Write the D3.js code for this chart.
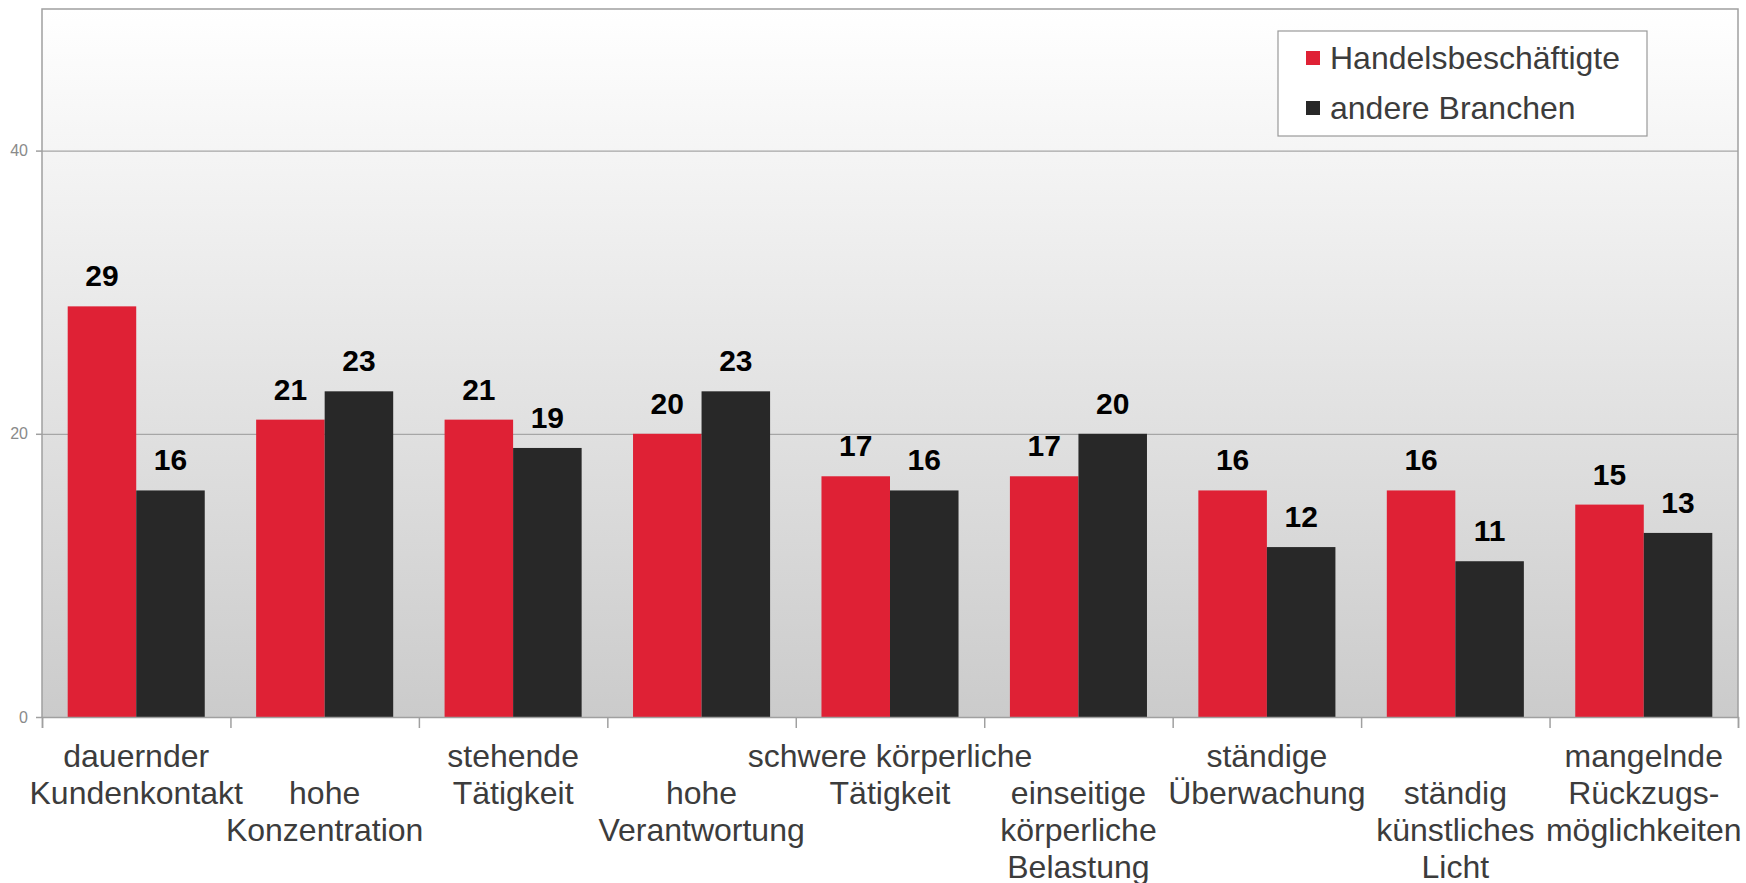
<!DOCTYPE html>
<html>
<head>
<meta charset="utf-8">
<script src="https://cdn.jsdelivr.net/npm/d3@7"></script>
<style>
  body { margin: 0; background: #fff; }
  svg { display: block; font-family: "Liberation Sans", Arial, sans-serif; }
</style>
</head>
<body>
<div class="chart"></div>
<script>
// chart data
var categories = [
  "dauernder\nKundenkontakt",
  "hohe\nKonzentration",
  "stehende\nTätigkeit",
  "hohe\nVerantwortung",
  "schwere körperliche\nTätigkeit",
  "einseitige\nkörperliche\nBelastung",
  "ständige\nÜberwachung",
  "ständig\nkünstliches\nLicht",
  "mangelnde\nRückzugs-\nmöglichkeiten"
];
var seriesNames = ["Handelsbeschäftigte", "andere Branchen"];
var handel = [29, 21, 21, 20, 17, 17, 16, 16, 15];
var andere = [16, 23, 19, 23, 16, 20, 12, 11, 13];
var yTicks = [0, 20, 40];

var colors = ["#df2135", "#282828"];

var svgWidth = 1746;
var svgHeight = 883;

var margin = { top: 9, right: 8, bottom: 166, left: 42 };
var width = svgWidth - margin.left - margin.right;
var height = svgHeight - margin.top - margin.bottom;

var svg = d3.select(".chart")
  .append("svg")
  .attr("width", svgWidth)
  .attr("height", svgHeight);

// plot background gradient
var grad = svg.append("defs").append("linearGradient")
  .attr("id", "bg")
  .attr("x1", 0).attr("y1", 0).attr("x2", 0).attr("y2", 1);
grad.append("stop").attr("offset", "0%").attr("stop-color", "#ffffff");
grad.append("stop").attr("offset", "100%").attr("stop-color", "#cbcbcb");

var g = svg.append("g")
  .attr("transform", `translate(${margin.left}, ${margin.top})`);

g.append("rect")
  .attr("width", width)
  .attr("height", height)
  .attr("fill", "url(#bg)");

// scales
var x0 = d3.scaleBand()
  .domain(d3.range(categories.length))
  .range([0, width])
  .padding(0);

var x1 = d3.scaleBand()
  .domain([0, 1])
  .range([0, x0.bandwidth()])
  .paddingInner(0)
  .paddingOuter(0.375);

var y = d3.scaleLinear()
  .domain([0, 50])
  .range([height, 0]);

// gridlines
g.append("g")
  .attr("class", "grid")
  .call(d3.axisLeft(y).tickValues([20, 40]).tickSize(-width).tickFormat(""))
  .call(s => s.select(".domain").remove())
  .call(s => s.selectAll("line").attr("stroke", "#a6a6a6").attr("stroke-width", 1.2));

// bars
var rows = categories.map((c, i) => [handel[i], andere[i]]);

var groups = g.selectAll(".cat")
  .data(rows)
  .enter().append("g")
  .attr("class", "cat")
  .attr("transform", (d, i) => `translate(${x0(i)}, 0)`);

groups.selectAll("rect")
  .data(d => d)
  .enter().append("rect")
  .attr("x", (d, j) => x1(j))
  .attr("y", d => y(d))
  .attr("width", x1.bandwidth())
  .attr("height", d => height - y(d))
  .attr("fill", (d, j) => colors[j]);

groups.selectAll("text.val")
  .data(d => d)
  .enter().append("text")
  .attr("class", "val")
  .attr("x", (d, j) => x1(j) + x1.bandwidth() / 2)
  .attr("y", d => y(d) - 20)
  .attr("text-anchor", "middle")
  .attr("font-size", "30px")
  .attr("font-weight", "bold")
  .attr("fill", "#000")
  .text(d => d);

// plot frame (top, left, right)
g.append("path")
  .attr("d", `M0,${height}V0H${width}V${height}`)
  .attr("fill", "none")
  .attr("stroke", "#a0a0a0")
  .attr("stroke-width", 1.5);

// y axis
var yAxis = g.append("g")
  .call(d3.axisLeft(y).tickValues(yTicks).tickSize(6).tickPadding(8))
  .call(s => s.select(".domain").remove());
yAxis.selectAll("line").attr("stroke", "#a0a0a0").attr("stroke-width", 1.5);
yAxis.selectAll("text")
  .attr("font-size", "16px")
  .attr("font-family", "Liberation Sans, Arial, sans-serif")
  .attr("fill", "#8a8a8a");

// x axis with ticks on category boundaries
var xb = d3.scaleLinear().domain([0, categories.length]).range([0, width]);
var xAxis = g.append("g")
  .attr("transform", `translate(0, ${height})`)
  .call(d3.axisBottom(xb).tickValues(d3.range(categories.length + 1)).tickSize(11).tickFormat(""));
xAxis.select(".domain").attr("stroke", "#a0a0a0").attr("stroke-width", 1.5);
xAxis.selectAll("line").attr("stroke", "#a0a0a0").attr("stroke-width", 1.5);

// category labels, staggered rows
var rowBase = height + 50;
var lineH = 37;
g.selectAll(".xlab")
  .data(categories)
  .enter().append("text")
  .attr("class", "xlab")
  .attr("text-anchor", "middle")
  .attr("font-size", "32px")
  .attr("fill", "#3c3c3c")
  .each(function(d, i) {
    var t = d3.select(this);
    d.split("\n").forEach(function(line, k) {
      t.append("tspan")
        .attr("x", x0(i) + x0.bandwidth() / 2)
        .attr("y", rowBase + (i % 2 + k) * lineH)
        .text(line);
    });
  });

// legend
var legend = svg.append("g")
  .attr("transform", "translate(1278, 31)");

legend.append("rect")
  .attr("width", 369)
  .attr("height", 105)
  .attr("fill", "#fff")
  .attr("stroke", "#999")
  .attr("stroke-width", 1.2);

var items = legend.selectAll(".item")
  .data(seriesNames)
  .enter().append("g")
  .attr("class", "item")
  .attr("transform", (d, i) => `translate(28, ${20 + i * 50})`);

items.append("rect")
  .attr("width", 14)
  .attr("height", 14)
  .attr("fill", (d, i) => colors[i]);

items.append("text")
  .attr("x", 24)
  .attr("y", 18)
  .attr("font-size", "32px")
  .attr("fill", "#3c3c3c")
  .text(d => d);
</script>
</body>
</html>
